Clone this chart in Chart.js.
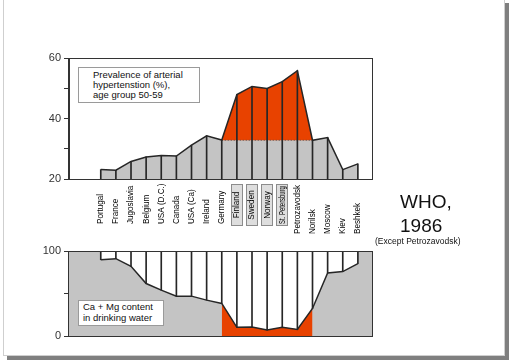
<!DOCTYPE html>
<html>
<head>
<meta charset="utf-8">
<script src="https://cdn.jsdelivr.net/npm/chart.js@4.4.1/dist/chart.umd.min.js"></script>
<style>
  body { margin: 0; background: #fff; font-family: "Liberation Sans", Arial, sans-serif; }
  #page { position: relative; width: 512px; height: 363px; overflow: hidden; background: #fff; }
  #frame { position: absolute; left: 3px; top: -1px; width: 500px; height: 355px;
           border: 1px solid #cfcfcf; box-shadow: 4px 4px 0 #7f7f7f; background: #fff; }
  canvas { position: absolute; left: 0; top: 0; }
  .note { position: absolute; background: #fff; border: 1px solid #9a9a9a; color: #111;
          font-size: 9.5px; line-height: 10px; box-sizing: border-box; z-index: 5; }
  #who { position: absolute; left: 400px; top: 190px; font-size: 19px; line-height: 24px; color: #111; z-index: 5; }
  #except { position: absolute; left: 375px; top: 236px; font-size: 8.5px; line-height: 10px; color: #111; z-index: 5; }
</style>
</head>
<body>
<div id="page">
  <div id="frame"></div>
  <canvas id="topChart" width="512" height="363"></canvas>
  <canvas id="bottomChart" width="512" height="363"></canvas>
  <div class="note" style="left:78px; top:67px; width:122px; height:36px; padding:2px 0 0 14px;">
    Prevalence of arterial<br>hypertenstion (%),<br>age group 50-59
  </div>
  <div class="note" style="left:78px; top:300px; width:86px; height:26px; padding:1px 0 0 4px; line-height:10.5px;">
    Ca + Mg content<br>in drinking water
  </div>
  <div id="who">WHO,<br>1986</div>
  <div id="except">(Except Petrozavodsk)</div>
</div>

<script>
// ---- data ----
const countries = ["Portugal", "France", "Jugoslavia", "Belgium", "USA (D.C.)", "Canada", "USA (Ca)",
  "Ireland", "Germany", "Finland", "Sweden", "Norway", "St. Petersburg", "Petrozavodsk",
  "Norilsk", "Moscow", "Kiev", "Beshkek"];
const hypertension = [23.1, 22.9, 25.8, 27.3, 27.8, 27.6, 31.2, 34.3, 32.9, 47.9, 50.6, 49.9,
  52.2, 55.8, 32.8, 33.7, 23.1, 25.0];
const caMg = [89.8, 91.0, 82.0, 61.7, 54.0, 46.9, 46.9, 42.2, 38.3, 10.2, 10.5, 7.0, 10.2, 7.8,
  32.4, 74.2, 75.8, 85.2];
const hyperTicks = [20, 40, 60];
const caMgTicks = [0, 100];
const boxed = ["Finland", "Sweden", "Norway", "St. Petersburg"];
const redFrom = "Germany";
const redTo = "Norilsk";
const hyperBase = 32.8;   // level the red part of the top chart starts from

const FONT = '"Liberation Sans", Arial, sans-serif';
const GREY = "#c4c4c4";
const RED = "#e84200";
const INK = "#262626";

Chart.defaults.font.family = FONT;
Chart.defaults.animation = false;
Chart.defaults.elements.point.radius = 0;
Chart.defaults.elements.line.tension = 0;

const isRed = i => i >= countries.indexOf(redFrom) && i <= countries.indexOf(redTo);
const pts = arr => arr.map((v, i) => ({ x: i, y: v }));
const redPts = arr => arr.map((v, i) => ({ x: i, y: isRed(i) ? v : null }));
const noLine = { borderWidth: 0, borderColor: "rgba(0,0,0,0)" };

// box round the plot area
const plotFrame = {
  id: "plotFrame",
  beforeDatasetsDraw(chart, args, opts) {
    const { ctx, chartArea: a } = chart;
    if (opts.fill) {
      ctx.save();
      ctx.fillStyle = opts.fill;
      ctx.fillRect(a.left, a.top, a.right - a.left, a.bottom - a.top);
      ctx.restore();
    }
  },
  afterDatasetsDraw(chart) {
    const { ctx, chartArea: a } = chart;
    ctx.save();
    ctx.strokeStyle = "#333";
    ctx.lineWidth = 1;
    ctx.strokeRect(Math.round(a.left) - 0.5, Math.round(a.top) + 0.5,
      Math.round(a.right - a.left), Math.round(a.bottom - a.top));
    ctx.restore();
  }
};

// country names between the two charts (narrow, like the original)
const countryLabels = {
  id: "countryLabels",
  afterDraw(chart) {
    const { ctx, scales: { x } } = chart;
    const firstBox = countries.indexOf(boxed[0]);
    ctx.save();
    ctx.font = "9px " + FONT;
    ctx.textBaseline = "middle";
    countries.forEach((name, i) => {
      const px = x.getPixelForValue(i);
      let maxLen;
      ctx.save();
      if (boxed.includes(name)) {
        ctx.fillStyle = "#dedede";
        ctx.strokeStyle = "#8c8c8c";
        ctx.fillRect(Math.round(px) - 5.5, 184.5, 11, 41);
        ctx.strokeRect(Math.round(px) - 5.5, 184.5, 11, 41);
        ctx.translate(px, 205);
        ctx.textAlign = "center";
        maxLen = 42;   // squeeze long names into the box
      } else {
        ctx.translate(px, i < firstBox ? 224 : 234);
        ctx.textAlign = "left";
      }
      ctx.rotate(-Math.PI / 2);
      ctx.scale(0.9, 1);
      ctx.fillStyle = "#000";
      if (maxLen) ctx.fillText(name, 0, 0, maxLen);
      else ctx.fillText(name, 0, 0);
      ctx.restore();
    });
    ctx.restore();
  }
};

function xScale() {
  return { type: "linear", min: -2.1, max: 18, display: false, offset: false };
}

function yScale(min, max, step, shown) {
  return {
    min, max,
    afterFit: s => { s.width = 69; },
    ticks: {
      stepSize: step,
      padding: 3,
      color: "#333",
      font: { size: 11 },
      callback: v => shown.includes(v) ? v : ""
    },
    grid: { drawOnChartArea: false, tickLength: 5, color: "#333" },
    border: { color: "#333" }
  };
}

/* ---------- top chart: hypertension ---------- */
new Chart(document.getElementById("topChart"), {
  type: "line",
  data: {
    datasets: [
      { type: "bar", data: hypertension.map((v, i) => ({ x: i, y: [hyperTicks[0], v] })),
        backgroundColor: INK, barThickness: 1, grouped: false, order: 0 },
      { data: pts(hypertension), borderColor: INK, borderWidth: 1.5, fill: false, order: 1 },
      { data: hypertension.map((v, i) => ({ x: i, y: isRed(i) ? hyperBase : null })),
        borderColor: "#555", borderWidth: 1, borderDash: [1, 2], fill: false, order: 2 },
      { data: redPts(hypertension), ...noLine, backgroundColor: RED, fill: { value: hyperBase }, order: 3 },
      { data: pts(hypertension), ...noLine, backgroundColor: GREY, fill: "start", order: 4 }
    ]
  },
  options: {
    responsive: false,
    layout: { padding: { left: 0, top: 58, right: 139, bottom: 184 } },
    plugins: { legend: { display: false }, tooltip: { enabled: false } },
    scales: { x: xScale(), y: yScale(20, 60, 10, hyperTicks) }
  },
  plugins: [plotFrame]
});

/* ---------- bottom chart: Ca + Mg ---------- */
new Chart(document.getElementById("bottomChart"), {
  type: "line",
  data: {
    datasets: [
      { type: "bar", data: caMg.map((v, i) => ({ x: i, y: [v, caMgTicks[1]] })),
        backgroundColor: INK, barThickness: 1, grouped: false, order: 0 },
      { data: pts(caMg), borderColor: INK, borderWidth: 1.5, fill: false, order: 1 },
      { data: redPts(caMg), ...noLine, backgroundColor: RED, fill: "start", order: 2 },
      { data: pts(caMg), ...noLine, backgroundColor: "#fff", fill: "end", order: 3 }
    ]
  },
  options: {
    responsive: false,
    layout: { padding: { left: 0, top: 251, right: 139, bottom: 27 } },
    plugins: { legend: { display: false }, tooltip: { enabled: false }, plotFrame: { fill: GREY } },
    scales: { x: xScale(), y: yScale(0, 100, 50, caMgTicks) }
  },
  plugins: [plotFrame, countryLabels]
});
</script>
</body>
</html>
